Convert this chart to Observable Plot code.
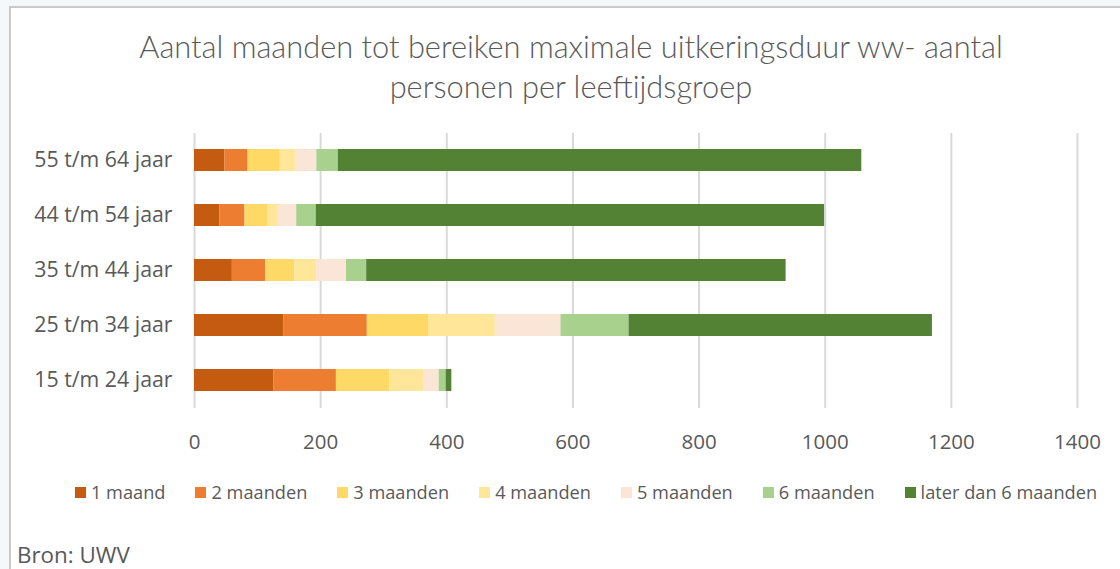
<!DOCTYPE html>
<html>
<head>
<meta charset="utf-8">
<script src="https://cdn.jsdelivr.net/npm/d3@7"></script>
<script src="https://cdn.jsdelivr.net/npm/@observablehq/plot@0.6"></script>
<style>
  html, body { margin: 0; padding: 0; width: 1120px; height: 569px; overflow: hidden; background: #f5f8fb; }
  #frame { position: absolute; left: 9px; top: 6px; width: 1111px; height: 563px; background: #fff;
           border-left: 2px solid #c9c9c9; border-top: 2px solid #c9c9c9; box-sizing: border-box; }
  #title { position: absolute; left: 0; top: 27px; width: 1142px; text-align: center;
           font-family: Lato, sans-serif; font-weight: 300; font-size: 30.8px; line-height: 40px; color: #595959; }
  #chart { position: absolute; left: 0; top: 120px; }
  #legend { position: absolute; left: 75px; top: 480px; display: flex; gap: 30px;
            font-family: "Open Sans", sans-serif; font-size: 18.2px; color: #595959; }
  #legend .item { display: flex; align-items: center; }
  #legend .sw { width: 11px; height: 11px; margin-right: 5px; }
  #caption { position: absolute; left: 17px; top: 539px; font-family: "Open Sans", sans-serif;
             font-size: 22.4px; color: #595959; }
</style>
</head>
<body>
<div id="frame"></div>
<div id="title">Aantal maanden tot bereiken maximale uitkeringsduur ww- aantal<br>personen per leeftijdsgroep</div>
<div id="chart"></div>
<div id="legend"></div>
<div id="caption">Bron: UWV</div>
<script>
const groups = ["55 t/m 64 jaar", "44 t/m 54 jaar", "35 t/m 44 jaar", "25 t/m 34 jaar", "15 t/m 24 jaar"];
const series = ["1 maand", "2 maanden", "3 maanden", "4 maanden", "5 maanden", "6 maanden", "later dan 6 maanden"];
const colors = ["#C55A11", "#ED7D31", "#FFD966", "#FFE699", "#FBE5D6", "#A9D18E", "#548235"];
// values per series, in order of groups
const m1    = [48, 40, 60, 142, 126];
const m2    = [37, 40, 53, 132, 99];
const m3    = [51, 37, 46, 97, 85];
const m4    = [24, 16, 35, 106, 54];
const m5    = [34, 29, 47, 104, 24];
const m6    = [34, 31, 32, 108, 11];
const later = [830, 806, 665, 481, 9];
const xTicks = [0, 200, 400, 600, 800, 1000, 1200, 1400];

const valueArrays = [m1, m2, m3, m4, m5, m6, later];
const data = [];
series.forEach((s, i) => groups.forEach((g, j) => data.push({group: g, series: s, value: valueArrays[i][j]})));

const chart = Plot.plot({
  width: 1120,
  height: 340,
  marginLeft: 194,
  marginRight: 43,
  marginTop: 13,
  marginBottom: 52,
  style: { fontFamily: "'Open Sans', sans-serif", fontSize: "20.5px", color: "#595959", background: "transparent" },
  x: { domain: [0, 1400], label: null },
  y: { domain: groups, label: null, paddingInner: 0.6, paddingOuter: 0.3 },
  color: { domain: series, range: colors },
  marks: [
    Plot.ruleX(xTicks, { stroke: "#d9d9d9", strokeWidth: 2 }),
    Plot.barX(data, Plot.stackX({ x: "value", y: "group", fill: "series", order: series, inset: 0 })),
    Plot.axisX({ ticks: xTicks, tickSize: 0, tickPadding: 26, tickFormat: d => String(d), label: null, fontSize: 20.5 }),
    Plot.axisY({ tickSize: 0, tickPadding: 22, label: null, fontSize: 21.3 }),
  ]
});
document.getElementById("chart").appendChild(chart);

const legend = document.getElementById("legend");
series.forEach((s, i) => {
  const item = document.createElement("div");
  item.className = "item";
  const sw = document.createElement("div");
  sw.className = "sw";
  sw.style.background = colors[i];
  const t = document.createElement("span");
  t.textContent = s;
  item.appendChild(sw); item.appendChild(t);
  legend.appendChild(item);
});
</script>
</body>
</html>
